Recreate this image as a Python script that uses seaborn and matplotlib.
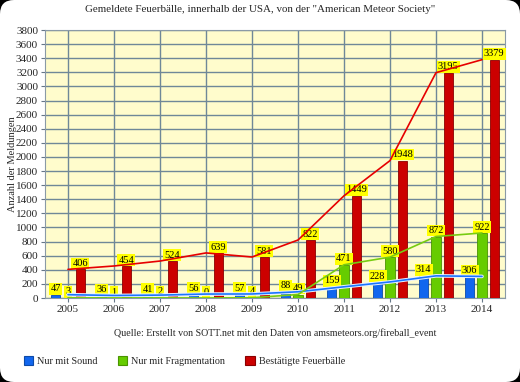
import numpy as np
import pandas as pd
import seaborn as sns
import matplotlib.pyplot as plt
import matplotlib.patheffects as pe
from matplotlib.patches import FancyBboxPatch, Patch
from matplotlib.transforms import IdentityTransform

# Data
years = ['2005', '2006', '2007', '2008', '2009', '2010', '2011', '2012', '2013', '2014']
sound = [47, 36, 41, 56, 57, 88, 159, 228, 314, 306]
fragmentation = [3, 1, 2, 0, 4, 49, 471, 580, 872, 922]
confirmed = [406, 454, 524, 639, 581, 822, 1449, 1948, 3195, 3379]
series_names = ['Nur mit Sound', 'Nur mit Fragmentation', 'Bestätigte Feuerbälle']

bar_colors = ['#1166ee', '#66cc00', '#cc0000']
edge_colors = ['#0d4aa8', '#4a9400', '#8a0000']
line_colors = ['#1a75ff', '#77cc11', '#e60000']

df = pd.DataFrame({'year': years * 3,
                   'value': sound + fragmentation + confirmed,
                   'series': np.repeat(series_names, len(years))})

sns.set_theme(style='white')
plt.rcParams['font.family'] = ['Liberation Serif', 'DejaVu Serif']

fig = plt.figure(figsize=(5.2, 3.82), dpi=100)
fig.patch.set_facecolor('black')
card = FancyBboxPatch((0, 0), 520, 382, boxstyle='round,pad=0,rounding_size=14',
                      transform=IdentityTransform(), facecolor='white', edgecolor='none',
                      zorder=-10)
fig.patches.append(card)

ax = fig.add_axes([45 / 520, 1 - 298 / 382, 460 / 520, 268 / 382])
ax.set_facecolor('#fffccc')

sns.barplot(data=df, x='year', y='value', hue='series', palette=bar_colors, saturation=1,
            width=0.8, gap=0.25, ax=ax, legend=False, errorbar=None, zorder=3)
for cont, ec in zip(ax.containers, edge_colors):
    for b in cont:
        b.set_edgecolor(ec)
        b.set_linewidth(0.6)
    ax.bar_label(cont, padding=1, fontsize=7.5, color='black', zorder=4,
                 bbox=dict(boxstyle='square,pad=0.12', fc='#ffff00', ec='none'))

xs = np.arange(len(years))
for i, (vals, lc) in enumerate(zip([sound, fragmentation, confirmed], line_colors)):
    line = sns.lineplot(x=xs, y=vals, color=lc, linewidth=1.2, ax=ax, zorder=5).lines[-1]
    if i == 0:
        line.set_path_effects([pe.withStroke(linewidth=2.6, foreground='#e8f0ff')])

ax.set_xlim(-0.5, len(years) - 0.5)
ax.set_ylim(0, 3800)
ax.set_yticks(np.arange(0, 3801, 200))
ax.set_xticks(xs)
ax.set_xticklabels(years)
ax.grid(True, color='#6f8898', linewidth=1.0, zorder=0)
ax.set_axisbelow(True)
for s in ax.spines.values():
    s.set_color('#8a9aa6')
    s.set_linewidth(0.8)
ax.tick_params(axis='both', labelsize=8, length=3, width=0.8, color='#667788',
               direction='out', left=True, bottom=True, pad=2)
ax.set_xlabel('')
ax.set_ylabel('Anzahl der Meldungen', fontsize=7.5, labelpad=3)
ax.yaxis.set_label_coords(-0.06, 0.5)

fig.text(0.5, 1 - 9 / 382, 'Gemeldete Feuerbälle, innerhalb der USA, von der "American Meteor Society"',
         ha='center', va='center', fontsize=7.9)
fig.text(275 / 520, 1 - 333 / 382,
         'Quelle: Erstellt von SOTT.net mit den Daten von amsmeteors.org/fireball_event',
         ha='center', va='center', fontsize=7.2)

handles = [Patch(facecolor=c, edgecolor=e, linewidth=0.8) for c, e in zip(bar_colors, edge_colors)]
fig.legend(handles, series_names, loc='center left', bbox_to_anchor=(24 / 520, 1 - 361 / 382),
           ncol=3, frameon=False, fontsize=7.3, handlelength=0.9, handleheight=0.9,
           handletextpad=0.4, columnspacing=2.0, borderaxespad=0, borderpad=0)

fig.savefig('out.png', dpi=100)
